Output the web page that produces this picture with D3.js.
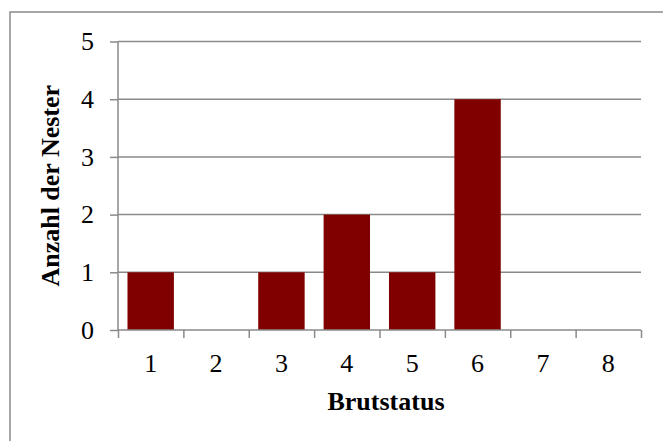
<!DOCTYPE html>
<html>
<head>
<meta charset="utf-8">
<script src="https://cdn.jsdelivr.net/npm/d3@7"></script>
<style>
  body { margin: 0; background: #fff; }
  svg text { font-family: 'Liberation Serif', 'Times New Roman', serif; fill: #000; }
</style>
</head>
<body>
<svg id="chart" width="663" height="441"></svg>
<script>
const categories = ['1', '2', '3', '4', '5', '6', '7', '8']
const values = [1, 0, 1, 2, 1, 4, 0, 0]
const yTicks = [0, 1, 2, 3, 4, 5]
const xTitle = 'Brutstatus'
const yTitle = 'Anzahl der Nester'

const marginLeft = 118
const marginRight = 22
const marginTop = 41.5
const marginBottom = 111
const width = 663
const height = 441
const gray = '#8a8a8a'

const svg = d3.select('#chart')

// outer frame (right and bottom fall outside the picture)
svg.append('rect')
  .attr('x', 10).attr('y', 12)
  .attr('width', 700).attr('height', 500)
  .attr('fill', 'none')
  .attr('stroke', gray)
  .attr('stroke-width', 1.5)

const x = d3.scaleBand()
  .domain(categories)
  .range([marginLeft, width - marginRight])
  .paddingInner(0.29)
  .paddingOuter(0.145)

const y = d3.scaleLinear()
  .domain([0, 5])
  .range([height - marginBottom, marginTop])

// gridlines
svg.append('g')
  .selectAll('line')
  .data(yTicks.filter((d) => d > 0))
  .join('line')
  .attr('x1', marginLeft).attr('x2', width - marginRight)
  .attr('y1', (d) => y(d)).attr('y2', (d) => y(d))
  .attr('stroke', gray)
  .attr('stroke-width', 1.5)

// bars
svg.append('g')
  .selectAll('rect')
  .data(values)
  .join('rect')
  .attr('x', (d, i) => x(categories[i]))
  .attr('y', (d) => y(d))
  .attr('width', x.bandwidth())
  .attr('height', (d) => y(0) - y(d))
  .attr('fill', '#800000')

// y axis
const yAxis = svg.append('g')
  .attr('transform', `translate(${marginLeft},0)`)
  .call(d3.axisLeft(y).tickValues(yTicks).tickFormat(d3.format('d')).tickSize(8).tickPadding(16))
yAxis.selectAll('line, path').attr('stroke', gray).attr('stroke-width', 1.5)
yAxis.select('.domain').attr('d', `M0,${y(5)}V${y(0)}`)
yAxis.selectAll('text')
  .style('font-size', '26px')
  .attr('font-family', null)

// x axis: boundary ticks
const edges = d3.scaleLinear()
  .domain([0, categories.length])
  .range([marginLeft, width - marginRight])
const xAxis = svg.append('g')
  .attr('transform', `translate(0,${y(0)})`)
  .call(d3.axisBottom(edges).ticks(categories.length).tickFormat('').tickSize(8).tickSizeOuter(8))
xAxis.selectAll('line, path').attr('stroke', gray).attr('stroke-width', 1.5)
xAxis.select('.domain').attr('d', `M${marginLeft},0H${width - marginRight}`)

// x labels
const xLabels = svg.append('g')
  .attr('transform', `translate(0,${y(0)})`)
  .call(d3.axisBottom(x).tickSize(0).tickPadding(24))
xLabels.select('.domain').remove()
xLabels.selectAll('text')
  .style('font-size', '26px')
  .attr('font-family', null)

// titles
svg.append('text')
  .attr('x', 386)
  .attr('y', 410)
  .attr('text-anchor', 'middle')
  .style('font-size', '26px')
  .style('font-weight', 'bold')
  .text(xTitle)

svg.append('text')
  .attr('transform', `translate(59,${(y(0) + y(5)) / 2}) rotate(-90)`)
  .attr('text-anchor', 'middle')
  .style('font-size', '26px')
  .style('font-weight', 'bold')
  .text(yTitle)
</script>
</body>
</html>
